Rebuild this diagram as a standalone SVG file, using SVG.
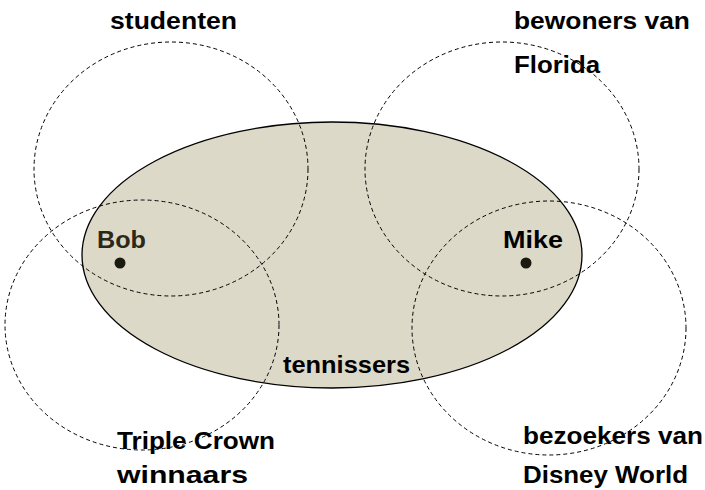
<svg xmlns="http://www.w3.org/2000/svg" width="705" height="490" viewBox="0 0 705 490">
<style>
.set{fill:none;stroke:#000;stroke-width:1;stroke-dasharray:4,3}
.lbl{font-family:"Liberation Sans",Arial,sans-serif;font-weight:bold;font-size:24px;fill:#000}
.dot{fill:#1a1a10}
</style>
<rect width="705" height="490" fill="#fff"/>
<g id="tennissers">
<ellipse cx="332" cy="255" rx="250" ry="133" fill="#ddd9c8" stroke="#000" stroke-width="1.3"/>
<text class="lbl" x="283" y="373" textLength="127" lengthAdjust="spacingAndGlyphs">tennissers</text>
</g>
<g id="connectors">
<ellipse id="studenten-set" class="set" cx="171" cy="169" rx="137" ry="127"/>
<ellipse id="florida-set" class="set" cx="502" cy="169" rx="137" ry="127"/>
<ellipse id="triple-set" class="set" cx="142" cy="325" rx="137" ry="125"/>
<ellipse id="disney-set" class="set" cx="549" cy="328" rx="137" ry="127"/>
</g>
<g id="studenten"><text class="lbl" x="110" y="29" textLength="127" lengthAdjust="spacingAndGlyphs">studenten</text></g>
<g id="florida">
<text class="lbl" x="514" y="29" textLength="176" lengthAdjust="spacingAndGlyphs">bewoners van</text>
<text class="lbl" x="514" y="73" textLength="86" lengthAdjust="spacingAndGlyphs">Florida</text>
</g>
<g id="triple">
<text class="lbl" x="117" y="449" textLength="158" lengthAdjust="spacingAndGlyphs">Triple Crown</text>
<text class="lbl" x="117" y="483" textLength="131" lengthAdjust="spacingAndGlyphs">winnaars</text>
</g>
<g id="disney">
<text class="lbl" x="523" y="444" textLength="180" lengthAdjust="spacingAndGlyphs">bezoekers van</text>
<text class="lbl" x="523" y="483" textLength="165" lengthAdjust="spacingAndGlyphs">Disney World</text>
</g>
<g id="bob">
<text class="lbl" x="97" y="248" textLength="49" lengthAdjust="spacingAndGlyphs" style="fill:#2b2818">Bob</text>
<circle class="dot" cx="120" cy="263" r="5.5"/>
</g>
<g id="mike">
<text class="lbl" x="503" y="248" textLength="60" lengthAdjust="spacingAndGlyphs">Mike</text>
<circle class="dot" cx="526" cy="263" r="5.5"/>
</g>
</svg>
